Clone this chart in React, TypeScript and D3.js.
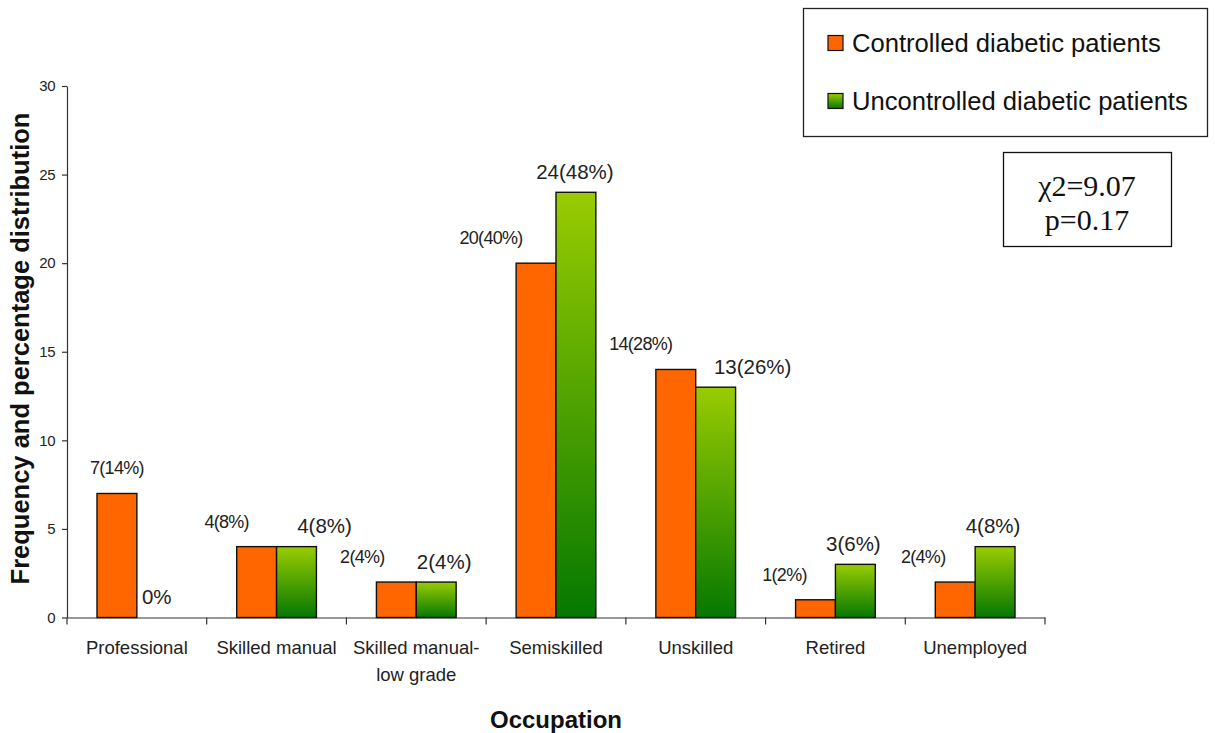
import React, { useEffect, useRef } from 'react';
import * as d3 from 'd3';

const occupations = ["Professional", "Skilled manual", "Skilled manual-|low grade", "Semiskilled", "Unskilled", "Retired", "Unemployed"];
const controlled = [7, 4, 2, 20, 14, 1, 2];
const controlledPct = [14, 8, 4, 40, 28, 2, 4];
const uncontrolled = [0, 4, 2, 24, 13, 3, 4];
const uncontrolledPct = [0, 8, 4, 48, 26, 6, 8];
const yTicks = [0, 5, 10, 15, 20, 25, 30];
const seriesNames = ["Controlled diabetic patients", "Uncontrolled diabetic patients"];

// label nudges (the original labels were hand-placed)
const controlledLabelDx = [0, -30, -34, -45, -35, -31, -32];
const uncontrolledLabelDx = [0, 28, 8, -1, 37, -2, -2];

const App: React.FC = () => {
  const svgRef = useRef<SVGSVGElement | null>(null);

  useEffect(() => {
    const width = 1215;
    const height = 733;
    const marginLeft = 67;
    const axisRight = 1045;
    const marginTop = 86;
    const axisBottom = 617.5;

    const svg = d3.select(svgRef.current);
    svg.selectAll("*").remove();
    svg.attr("width", width).attr("height", height).attr("viewBox", [0, 0, width, height]);

    const defs = svg.append("defs");
    const grad = defs.append("linearGradient")
      .attr("id", "greenGrad")
      .attr("x1", 0).attr("y1", 0).attr("x2", 0).attr("y2", 1);
    grad.append("stop").attr("offset", "0%").attr("stop-color", "#99cc00");
    grad.append("stop").attr("offset", "100%").attr("stop-color", "#057800");

    const x = d3.scaleBand<number>()
      .domain(d3.range(occupations.length))
      .range([marginLeft, axisRight])
      .paddingInner(0)
      .paddingOuter(0);

    const inner = d3.scaleBand<number>()
      .domain([0, 1])
      .range([30, x.bandwidth() - 30]);

    const y = d3.scaleLinear()
      .domain([0, 30])
      .range([axisBottom, marginTop]);

    // y axis
    const yAxis = svg.append("g")
      .attr("transform", `translate(${marginLeft},0)`)
      .call(d3.axisLeft(y).tickValues(yTicks).tickSize(5).tickPadding(7).tickSizeOuter(0))
      .call(g => g.selectAll("text")
        .attr("font-family", "Liberation Sans, Arial, sans-serif")
        .attr("font-size", 15)
        .attr("letter-spacing", -0.5)
        .attr("fill", "#222"));
    yAxis.selectAll("line, path").attr("stroke", "#333").attr("stroke-width", 1.2);

    // x axis
    const xAxis = svg.append("g")
      .attr("transform", `translate(0,${axisBottom})`)
      .call(d3.axisBottom(x).tickValues([]).tickSizeOuter(0));
    xAxis.select(".domain").attr("stroke", "#333").attr("stroke-width", 1.2);
    xAxis.selectAll(".boundary")
      .data(d3.range(occupations.length + 1))
      .join("line")
      .attr("x1", i => marginLeft + i * x.step())
      .attr("x2", i => marginLeft + i * x.step())
      .attr("y1", 0)
      .attr("y2", 7)
      .attr("stroke", "#333")
      .attr("stroke-width", 1.2);

    // category labels
    const cats = svg.append("g")
      .attr("font-family", "Liberation Sans, Arial, sans-serif")
      .attr("font-size", 18.5)
      .attr("fill", "#222")
      .attr("text-anchor", "middle");
    occupations.forEach((name, i) => {
      const t = cats.append("text")
        .attr("x", x(i)! + x.bandwidth() / 2)
        .attr("y", 654);
      name.split("|").forEach((line, j) => {
        t.append("tspan")
          .attr("x", x(i)! + x.bandwidth() / 2)
          .attr("dy", j === 0 ? 0 : 27)
          .text(line);
      });
    });

    // bars
    const series = [
      { values: controlled, pct: controlledPct, dx: controlledLabelDx, fill: "#ff6600", size: 18, ls: -0.7, dy: -25 },
      { values: uncontrolled, pct: uncontrolledPct, dx: uncontrolledLabelDx, fill: "url(#greenGrad)", size: 20.5, ls: 0, dy: -21 },
    ];

    series.forEach((s, si) => {
      svg.append("g")
        .selectAll("rect")
        .data(s.values)
        .join("rect")
        .attr("x", (_, i) => x(i)! + inner(si)!)
        .attr("y", d => y(d))
        .attr("width", inner.bandwidth())
        .attr("height", d => y(0) - y(d))
        .attr("fill", s.fill)
        .attr("stroke", d => d > 0 ? "#111" : "none")
        .attr("stroke-width", 1.4);

      svg.append("g")
        .attr("font-family", "Liberation Sans, Arial, sans-serif")
        .attr("font-size", s.size)
        .attr("letter-spacing", s.ls)
        .attr("fill", "#222")
        .attr("text-anchor", "middle")
        .selectAll("text")
        .data(s.values)
        .join("text")
        .attr("x", (_, i) => x(i)! + inner(si)! + inner.bandwidth() / 2 + s.dx[i])
        .attr("y", d => y(d) + s.dy)
        .attr("dominant-baseline", "central")
        .text((d, i) => d === 0 ? `${s.pct[i]}%` : `${d}(${s.pct[i]}%)`);
    });

    // axis titles
    svg.append("text")
      .attr("transform", `translate(29,${(110 + 587) / 2}) rotate(-90)`)
      .attr("text-anchor", "middle")
      .attr("font-family", "Liberation Sans, Arial, sans-serif")
      .attr("font-weight", "bold")
      .attr("font-size", 25.5)
      .attr("fill", "#111")
      .text("Frequency and percentage distribution");

    svg.append("text")
      .attr("x", 556)
      .attr("y", 728)
      .attr("text-anchor", "middle")
      .attr("font-family", "Liberation Sans, Arial, sans-serif")
      .attr("font-weight", "bold")
      .attr("font-size", 24)
      .attr("fill", "#111")
      .text("Occupation");

    // legend
    const legend = svg.append("g");
    legend.append("rect")
      .attr("x", 803.5).attr("y", 8.5)
      .attr("width", 404).attr("height", 128)
      .attr("fill", "white").attr("stroke", "#222").attr("stroke-width", 1.3);
    const legendFills = ["#ff6600", "url(#greenGrad)"];
    const legendY = d3.scalePoint<number>().domain([0, 1]).range([43, 101]);
    seriesNames.forEach((name, i) => {
      legend.append("rect")
        .attr("x", 828).attr("y", legendY(i)! - 7.5)
        .attr("width", 15).attr("height", 15)
        .attr("fill", legendFills[i]).attr("stroke", "#111").attr("stroke-width", 1.2);
      legend.append("text")
        .attr("x", 852).attr("y", legendY(i)!)
        .attr("dominant-baseline", "central")
        .attr("font-family", "Liberation Sans, Arial, sans-serif")
        .attr("font-size", 25.6)
        .attr("fill", "#111")
        .text(name);
    });

    // statistics box
    const stats = svg.append("g");
    stats.append("rect")
      .attr("x", 1003.5).attr("y", 152.5)
      .attr("width", 168).attr("height", 94)
      .attr("fill", "white").attr("stroke", "#111").attr("stroke-width", 1.3);
    ["χ2=9.07", "p=0.17"].forEach((line, i) => {
      stats.append("text")
        .attr("x", 1087).attr("y", 185 + i * 34)
        .attr("text-anchor", "middle")
        .attr("dominant-baseline", "central")
        .attr("font-family", "Liberation Serif, Times New Roman, serif")
        .attr("font-size", 30)
        .attr("fill", "#111")
        .text(line);
    });
  }, []);

  return (
    <svg ref={svgRef} style={{ position: "absolute", left: 0, top: 0, background: "white" }}></svg>
  );
};

export default App;
